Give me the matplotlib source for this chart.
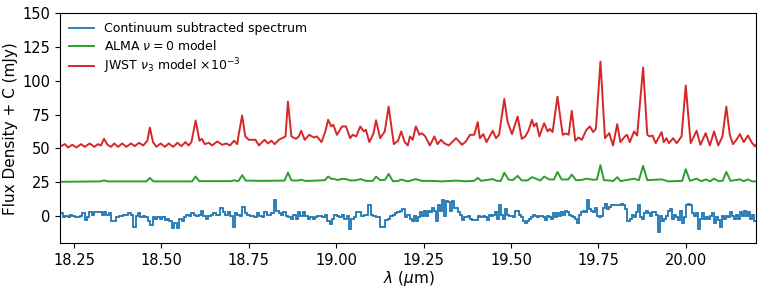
import numpy as np
import matplotlib
matplotlib.use("Agg")
import matplotlib.pyplot as plt

# observed continuum-subtracted spectrum (mJy), two stretches of bins
obs_range_a = (18.211, 19.217)
obs_flux_a = [2, -1, 0, -1, 1, 0, -1, -1, 0, 2, -3, -1, 3, 1, 3, 3, 3, 1, 3, 1,
              2, -4, -4, -1, 0, 0, 1, 1, 2, 1, -8, 0, 2, -1, 0, -1, -4, -7, -1, -2,
              -1, -2, -1, -3, -2, -4, -9, -5, -9, -2, -4, -1, 1, 0, 2, 1, 0, 1, 4, 0,
              -2, 0, 1, 2, 1, 1, 6, 3, 1, 3, 0, -8, 2,
              1, 0, 7, 2, 1, 0, 0, -1, 2, 0, -1, 3, 1, 1, 2, 12, 4, 2, 1, 3,
              0, -1, -2, 1, -2, 3, 0, 3, 0, -2, -1, -2, -1, 0, 0, -1, 1, -4, -6, -2,
              1, 0, -1, 1, -2, 0, -10, -2, -1, 3, 3, 0, 1, 1, 8, 1, 0, -1, -1, -8,
              -8, -3, -2, 0, 1, 2, 3, 4, 5, -1, 1, -2]
obs_range_b = (19.217, 20.202)
obs_flux_b = [-4, 0, -4, -1, 3, 0, 4, 0, 4, 3, 6, 4, -4, 8, 4, 12, 0, 11, 10, 4,
              11, 6, 6, 3, 1, -3, -1, -1, 0, -2, -3, -3, -3, 0, -1, 0, -1, -3, 1, 0,
              1, 3, -2, 8, 1, -2, 5, 1, 0, 0, -1, 4, 4, 1, -1, -4, -5, -4, -2, -1,
              1, 0, -1, 0, 0, -1, -3, 0, -1, -2, 2, -1, 2, 0, 3, 1, 4, 3, 1, 0,
              -1, -2, -5, 1, 3, 4,
              3, 12, 5, 4, 3, 6, 0, -1, 0, 6, 9, 5, 7, 8, 8, 8, 8, 8, 9, 8,
              5, -4, -2, 1, -1, 3, 8, -1, -2, 2, 4, 2, 0, 3, 3, 1, -12, 0, -4, -2,
              0, 4, 5, -2, 1, -1, -3, 4, -5, -1, 8, 9, 8, 2, 0, 2, -10, -2, 2, -2,
              -1, -2, 0, 2, -5, -1, -3, -8, 0, -2, 0, -1, 3, 0, -2, 1, -2, 3, 0, 4,
              0, 3, -2, 1, -4]

# ALMA v=0 model (+25 offset)
alma_wl = [18.211, 18.326, 18.336, 18.346, 18.457, 18.467, 18.477, 18.588, 18.598, 18.608,
           18.700, 18.708, 18.716, 18.721, 18.731, 18.741, 18.790, 18.852, 18.862, 18.872,
           18.890, 18.900, 18.912, 18.925, 18.968, 18.977, 18.986, 18.992, 19.005, 19.017,
           19.028, 19.040, 19.057, 19.069, 19.085, 19.105, 19.114, 19.126, 19.140, 19.150,
           19.162, 19.176, 19.186, 19.205, 19.228, 19.245, 19.281, 19.300, 19.343, 19.370,
           19.395, 19.405, 19.415, 19.448, 19.460, 19.471, 19.481, 19.493, 19.505, 19.519,
           19.531, 19.548, 19.560, 19.573, 19.584, 19.595, 19.610, 19.623, 19.633, 19.645,
           19.664, 19.674, 19.686, 19.700, 19.716, 19.735, 19.746, 19.756, 19.766, 19.781,
           19.792, 19.804, 19.814, 19.852, 19.866, 19.878, 19.890, 19.931, 19.950, 19.990,
           20.000, 20.012, 20.031, 20.045, 20.057, 20.069, 20.081, 20.095, 20.106, 20.116,
           20.128, 20.155, 20.166, 20.178, 20.190, 20.202]
alma_flux = [25.3, 25.6, 26.4, 25.6, 25.6, 28.2, 25.6, 25.6, 29.2, 25.8,
             25.8, 26.5, 25.8, 26.0, 30.2, 26.2, 26.0, 26.2, 32.1, 26.4,
             26.2, 26.8, 26.0, 26.0, 26.5, 29.2, 27.5, 27.5, 26.6, 27.5,
             27.3, 26.3, 26.4, 27.3, 26.0, 26.0, 29.2, 26.5, 26.8, 31.2,
             25.8, 25.8, 27.0, 25.6, 27.3, 26.0, 25.9, 25.6, 26.2, 25.7,
             26.0, 28.2, 26.0, 27.3, 26.0, 26.0, 32.1, 27.0, 26.5, 29.7,
             26.3, 26.4, 28.7, 27.5, 26.2, 29.2, 27.0, 27.0, 32.6, 27.0,
             27.0, 30.7, 26.5, 26.6, 27.6, 26.8, 27.0, 37.6, 26.5, 26.3,
             25.8, 28.7, 25.8, 27.6, 26.5, 37.1, 26.5, 27.1, 25.6, 26.0,
             34.6, 26.0, 27.6, 25.7, 27.1, 25.7, 27.6, 25.7, 26.2, 32.6,
             26.0, 27.1, 25.8, 27.1, 25.6, 25.6]

# JWST v3 model x1e-3 (+50 offset)
jwst_wl = [18.211, 18.224, 18.233, 18.245, 18.257, 18.270, 18.281, 18.295, 18.308, 18.319,
           18.327, 18.336, 18.346, 18.356, 18.365, 18.376, 18.388, 18.400, 18.413, 18.424,
           18.436, 18.448, 18.460, 18.467, 18.476, 18.486, 18.498, 18.510, 18.521, 18.534,
           18.546, 18.557, 18.569, 18.578, 18.586, 18.598, 18.609, 18.616, 18.624, 18.636,
           18.645, 18.660, 18.674, 18.686, 18.696, 18.708, 18.717, 18.721, 18.731, 18.740,
           18.750, 18.769, 18.779, 18.795, 18.805, 18.815, 18.824, 18.836, 18.845, 18.855,
           18.862, 18.872, 18.885, 18.893, 18.900, 18.910, 18.923, 18.936, 18.945, 18.958,
           18.969, 18.977, 18.986, 18.992, 19.002, 19.017, 19.028, 19.040, 19.047, 19.057,
           19.069, 19.079, 19.085, 19.095, 19.107, 19.114, 19.126, 19.139, 19.150, 19.165,
           19.177, 19.186, 19.196, 19.205, 19.211, 19.219, 19.228, 19.238, 19.245, 19.255,
           19.268, 19.281, 19.290, 19.300, 19.309, 19.322, 19.343, 19.360, 19.371, 19.383,
           19.395, 19.405, 19.411, 19.421, 19.430, 19.448, 19.457, 19.466, 19.481, 19.490,
           19.503, 19.519, 19.531, 19.541, 19.550, 19.560, 19.566, 19.573, 19.581, 19.595,
           19.605, 19.611, 19.619, 19.633, 19.648, 19.657, 19.665, 19.674, 19.684, 19.693,
           19.703, 19.707, 19.716, 19.726, 19.735, 19.743, 19.756, 19.769, 19.781, 19.792,
           19.804, 19.813, 19.826, 19.832, 19.840, 19.852, 19.861, 19.878, 19.890, 19.897,
           19.905, 19.914, 19.931, 19.937, 19.945, 19.952, 19.964, 19.974, 19.988, 20.000,
           20.014, 20.031, 20.042, 20.057, 20.069, 20.081, 20.093, 20.105, 20.116, 20.126,
           20.135, 20.145, 20.155, 20.166, 20.178, 20.188, 20.198, 20.204]
jwst_flux = [51.5, 53.2, 50.7, 52.7, 50.7, 53.2, 51.2, 53.7, 51.2, 53.2,
             52.2, 57.1, 52.7, 51.2, 53.7, 51.2, 53.7, 51.2, 53.7, 51.7,
             54.2, 52.2, 55.7, 65.5, 54.7, 51.2, 53.7, 51.2, 53.7, 51.2,
             54.2, 51.7, 54.7, 52.2, 54.7, 70.7, 55.7, 57.1, 53.2, 54.2,
             52.2, 55.2, 52.7, 53.7, 52.2, 55.7, 53.2, 60.1, 74.4, 58.9,
             56.4, 56.4, 52.2, 56.4, 53.7, 55.7, 53.2, 56.4, 57.6, 58.9,
             84.7, 58.9, 57.1, 58.9, 63.1, 56.4, 60.1, 58.1, 58.9, 54.7,
             62.6, 71.2, 66.3, 67.5, 60.1, 66.3, 66.3, 57.6, 60.1, 58.9,
             66.3, 62.6, 63.8, 54.7, 61.3, 70.9, 57.6, 62.6, 81.0, 53.2,
             55.7, 62.6, 54.7, 52.2, 58.9, 56.4, 66.3, 60.1, 61.3, 58.9,
             52.2, 58.9, 53.2, 56.4, 53.9, 52.2, 57.6, 52.7, 55.2, 60.1,
             60.1, 69.5, 57.6, 60.6, 54.7, 63.1, 57.6, 60.1, 86.7, 70.0,
             60.6, 73.6, 57.1, 58.9, 63.1, 71.2, 66.3, 68.7, 58.9, 68.7,
             62.6, 64.5, 62.1, 88.4, 60.1, 61.1, 60.1, 77.8, 55.7, 58.1,
             56.4, 58.9, 63.8, 66.3, 62.1, 64.5, 114.3, 57.6, 61.3, 52.2,
             68.0, 54.7, 58.9, 60.1, 54.7, 62.6, 59.6, 109.9, 60.1, 58.9,
             59.6, 53.9, 62.1, 54.7, 57.6, 53.9, 57.6, 53.9, 58.9, 96.6,
             53.9, 63.1, 52.7, 61.3, 52.2, 62.6, 52.2, 58.9, 81.0, 60.1,
             53.2, 56.4, 60.6, 54.7, 59.6, 54.7, 51.5, 53.9]

edges = np.concatenate([np.linspace(*obs_range_a, len(obs_flux_a) + 1),
                        np.linspace(*obs_range_b, len(obs_flux_b) + 1)[1:]])
obs_flux = np.array(obs_flux_a + obs_flux_b)

fig = plt.figure(figsize=(7.64, 2.91), dpi=100)
ax = fig.add_axes([0.079, 0.165, 0.911, 0.789])

ax.stairs(obs_flux, edges, color='C0', lw=1.3, baseline=None,
          label='Continuum subtracted spectrum')
ax.plot(alma_wl, alma_flux, color='C2', lw=1.4, label=r'ALMA $\nu=0$ model')
ax.plot(jwst_wl, jwst_flux, color='C3', lw=1.4, label=r'JWST $\nu_3$ model $\times10^{-3}$')

ax.set_xlim(18.211, 20.202)
ax.set_ylim(-20, 150)
ax.set_xticks([18.25, 18.5, 18.75, 19.0, 19.25, 19.5, 19.75, 20.0])
ax.set_xticklabels(['%.2f' % t for t in ax.get_xticks()])
ax.set_yticks([0, 25, 50, 75, 100, 125, 150])
ax.tick_params(labelsize=10.5)
ax.set_xlabel(r'$\lambda$ ($\mu$m)', fontsize=11, labelpad=1)
ax.set_ylabel('Flux Density + C (mJy)', fontsize=11, labelpad=3)
ax.legend(loc='upper left', frameon=False, fontsize=9, labelspacing=0.3,
          borderaxespad=0.3)

fig.savefig('out.png', dpi=100)
